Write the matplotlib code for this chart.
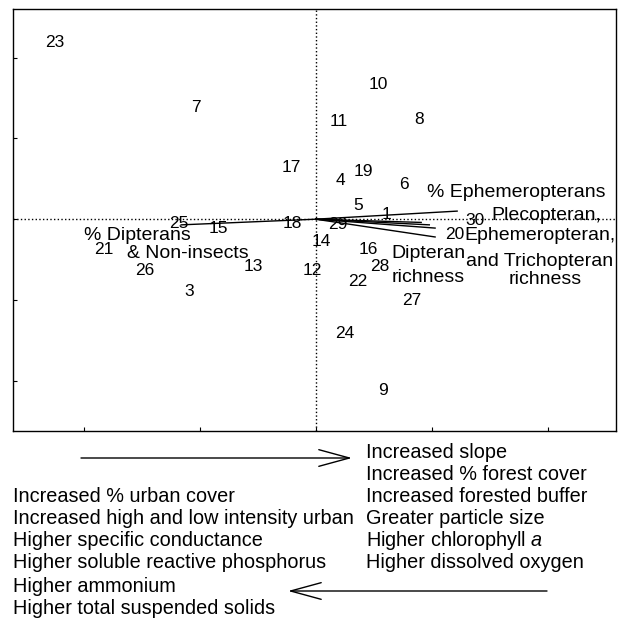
import matplotlib
matplotlib.use("Agg")
import matplotlib.pyplot as plt

plt.rcParams['font.family'] = ['Liberation Sans', 'DejaVu Sans']
plt.rcParams['mathtext.fontset'] = 'custom'
plt.rcParams['mathtext.rm'] = 'Liberation Sans'
plt.rcParams['mathtext.it'] = 'Liberation Sans:italic'

# site scores (ordination axis 1, axis 2)
site_ids = ['1', '3', '4', '5', '6', '7', '8', '9', '10', '11', '12', '13', '14', '15', '16',
            '17', '18', '19', '20', '21', '22', '23', '24', '25', '26', '27', '28', '29', '30']
site_x = [0.61, -1.09, 0.21, 0.37, 0.76, -1.03, 0.89, 0.58, 0.54, 0.20, -0.03, -0.54, 0.05, -0.84, 0.45,
          -0.21, -0.20, 0.41, 1.20, -1.83, 0.36, -2.25, 0.25, -1.18, -1.47, 0.83, 0.55, 0.19, 1.37]
site_y = [0.06, -0.89, 0.48, 0.17, 0.43, 1.38, 1.23, -2.12, 1.67, 1.21, -0.63, -0.59, -0.27, -0.12, -0.37,
          0.64, -0.05, 0.59, -0.19, -0.38, -0.77, 2.19, -1.42, -0.05, -0.63, -1.01, -0.59, -0.07, -0.02]

# biotic variable vectors (end points)
vec_x = [-1.16, 1.22, 0.91, 0.98, 1.03, 1.03]
vec_y = [-0.07, 0.10, -0.04, -0.07, -0.11, -0.22]

vec_labels = ['% Ephemeropterans', 'Plecopteran,', 'Ephemeropteran,', 'and Trichopteran', 'richness',
              'Dipteran', 'richness', '% Dipterans', '& Non-insects']
vec_label_x = [1.73, 1.99, 1.93, 1.93, 1.98, 0.97, 0.97, -1.54, -1.10]
vec_label_y = [0.33, 0.05, -0.20, -0.52, -0.74, -0.42, -0.72, -0.20, -0.42]

left_lines = ['Increased % urban cover', 'Increased high and low intensity urban',
              'Higher specific conductance', 'Higher soluble reactive phosphorus',
              'Higher ammonium', 'Higher total suspended solids']
right_lines = ['Increased slope', 'Increased % forest cover', 'Increased forested buffer',
               'Greater particle size', 'Higher chlorophyll $\\mathit{a}$', 'Higher dissolved oxygen']

W = 623.0
fig = plt.figure(figsize=(6.23, 6.23), dpi=100)
ax = fig.add_axes([13 / W, 1 - 431 / W, 603 / W, 422 / W])

ax.axhline(0, color='black', linestyle=':', linewidth=1)
ax.axvline(0, color='black', linestyle=':', linewidth=1)

for vx, vy in zip(vec_x, vec_y):
    ax.plot([0, vx], [0, vy], color='black', linewidth=1)

for sid, sx, sy in zip(site_ids, site_x, site_y):
    ax.text(sx, sy, sid, fontsize=12.5, ha='center', va='center')

for lab, lx, ly in zip(vec_labels, vec_label_x, vec_label_y):
    ax.text(lx, ly, lab, fontsize=14, ha='center', va='center')

ax.set_xlim(-2.61, 2.59)
ax.set_ylim(-2.62, 2.60)
ax.set_xticks([-2, -1, 0, 1, 2])
ax.set_yticks([-2, -1, 0, 1, 2])
ax.tick_params(direction='in', length=3, labelbottom=False, labelleft=False)
for sp in ax.spines.values():
    sp.set_linewidth(1)


def fx(px):
    return px / W


def fy(py):
    return 1 - py / W


# direction arrows under the plot
ax.annotate('', xy=(fx(352), fy(458)), xytext=(fx(81), fy(458)), xycoords='figure fraction',
            arrowprops=dict(arrowstyle='->,head_length=22,head_width=6', lw=1, color='black',
                            mutation_scale=1, shrinkA=0, shrinkB=0))
ax.annotate('', xy=(fx(288), fy(591)), xytext=(fx(547), fy(591)), xycoords='figure fraction',
            arrowprops=dict(arrowstyle='->,head_length=22,head_width=6', lw=1, color='black',
                            mutation_scale=1, shrinkA=0, shrinkB=0))

left_y = [497, 519, 541, 563, 586, 608]
right_y = [452, 474, 497, 519, 541, 563]
for txt, py in zip(left_lines, left_y):
    fig.text(fx(13), fy(py), txt, fontsize=14.3, ha='left', va='center')
for txt, py in zip(right_lines, right_y):
    fig.text(fx(366), fy(py), txt, fontsize=14.3, ha='left', va='center')

fig.savefig('out.png', dpi=100)
